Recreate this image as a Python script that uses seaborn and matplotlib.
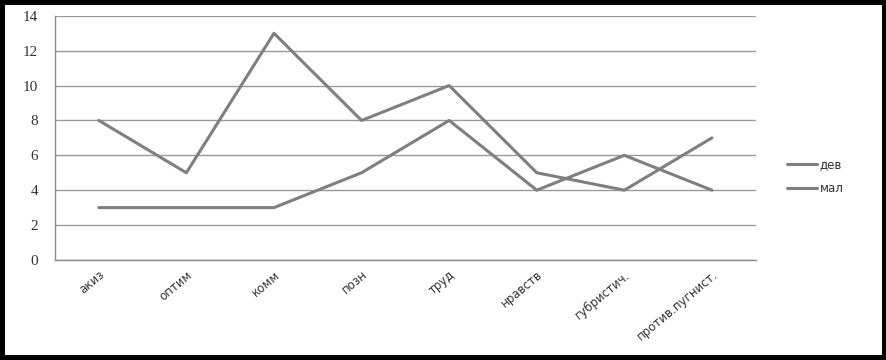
import matplotlib
matplotlib.use('Agg')
import matplotlib.pyplot as plt
import numpy as np
import pandas as pd
import seaborn as sns

# ====================================
# DATA
# ====================================

categories = ['акиз', 'оптим', 'комм', 'позн', 'труд',
              'нравств', 'губристич.', 'против.пугнист.']

dev = [8, 5, 13, 8, 10, 5, 4, 7]

mal = [3, 3, 3, 5, 8, 4, 6, 4]

series_names = ['дев', 'мал']

df = pd.DataFrame({
    'cat': categories * 2,
    'val': dev + mal,
    'series': [series_names[0]] * len(dev) + [series_names[1]] * len(mal)
})

# ====================================
# PLOT
# ====================================

sns.set_style('white')
plt.rcParams['font.family'] = ['DejaVu Sans']

fig = plt.figure(figsize=(8.87, 3.6), dpi=100)
ax = fig.add_axes([0.062, 0.278, 0.79, 0.678])

line_grey = '#7f7f7f'

sns.lineplot(
    data=df,
    x='cat',
    y='val',
    hue='series',
    palette=[line_grey, line_grey],
    linewidth=2.2,
    sort=False,
    ax=ax,
    legend=False
)

ax.set_xlim(-0.5, len(categories) - 0.5)
ax.set_ylim(0, 14)
ax.set_yticks(np.arange(0, 15, 2))

ax.yaxis.grid(True, color='#9a9a9a', linewidth=1.0)
ax.set_axisbelow(True)

for side in ['top', 'right']:
    ax.spines[side].set_visible(False)
for side in ['left', 'bottom']:
    ax.spines[side].set_color('#8c8c8c')
    ax.spines[side].set_linewidth(1.0)

# category labels centred, tick marks between categories
ax.set_xticks(range(len(categories)))
ax.set_xticklabels(categories, rotation=40, ha='right',
                   rotation_mode='anchor', fontsize=8.5, color='#333333')
ax.tick_params(axis='x', length=0, pad=6)
ax.set_xticks(np.arange(-0.5, len(categories), 1), minor=True)
ax.tick_params(axis='x', which='minor', length=4, color='#8c8c8c')

ax.tick_params(axis='y', length=4, color='#8c8c8c', pad=8)
for lbl in ax.get_yticklabels():
    lbl.set_fontfamily('Liberation Serif')
    lbl.set_fontsize(11)
    lbl.set_color('#333333')

ax.set_xlabel('')
ax.set_ylabel('')

# legend
handles = [plt.Line2D([], [], color=line_grey, linewidth=2.2) for _ in series_names]
fig.legend(handles, series_names, loc='center left',
           bbox_to_anchor=(0.875, 0.51), frameon=False,
           fontsize=8.5, handlelength=2.6, handletextpad=0.2,
           labelspacing=0.9, labelcolor='#333333')

# black border round the picture
fig.patch.set_edgecolor('black')
fig.patch.set_linewidth(6)

fig.savefig('out.png', dpi=100, edgecolor=fig.get_edgecolor())
plt.close()
